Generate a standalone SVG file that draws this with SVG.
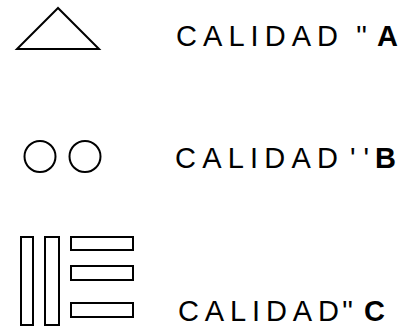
<svg xmlns="http://www.w3.org/2000/svg" width="403" height="333" viewBox="0 0 403 333">
  <style>
    .sym { fill: none; stroke: #000; stroke-width: 2; stroke-linejoin: miter; }
    .lbl { font-family: "Liberation Sans", Arial, sans-serif; font-size: 29px; fill: #000; }
    .bold { font-weight: bold; }
  </style>
  <rect width="403" height="333" fill="#fff"/>
  <g id="legend-a">
    <polygon class="sym" points="58,8 17,49 99,49"/>
    <text class="lbl" x="176" y="46" textLength="162" lengthAdjust="spacing">CALIDAD</text>
    <text class="lbl" x="356" y="46">''</text>
    <text class="lbl bold" x="377" y="46">A</text>
  </g>
  <g id="legend-b">
    <circle class="sym" cx="40" cy="156.5" r="15.5"/>
    <circle class="sym" cx="85" cy="156.5" r="15.5"/>
    <text class="lbl" x="175" y="168" textLength="163" lengthAdjust="spacing">CALIDAD</text>
    <text class="lbl" x="350" y="168" font-size="22">' '</text>
    <text class="lbl bold" x="375" y="168">B</text>
  </g>
  <g id="legend-c">
    <rect class="sym" x="21" y="237" width="12" height="88"/>
    <rect class="sym" x="45" y="237" width="14" height="88"/>
    <rect class="sym" x="71" y="237" width="62" height="13"/>
    <rect class="sym" x="71" y="266" width="62" height="14"/>
    <rect class="sym" x="71" y="303" width="62" height="14"/>
    <text class="lbl" x="178" y="321" textLength="161" lengthAdjust="spacing">CALIDAD</text>
    <text class="lbl" x="342" y="321">''</text>
    <text class="lbl bold" x="364" y="321">C</text>
  </g>
</svg>
